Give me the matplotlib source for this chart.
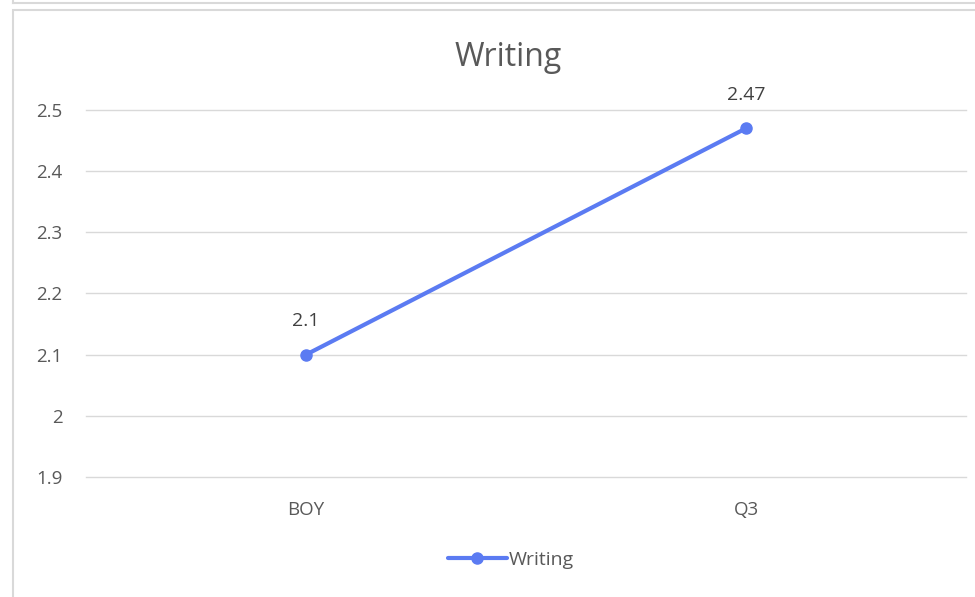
import matplotlib
matplotlib.use('Agg')
from matplotlib import pyplot as plt
from matplotlib.patches import Rectangle
from matplotlib.lines import Line2D

# datos
categories = ['BOY', 'Q3']
writing = [2.1, 2.47]
y_ticks = [1.9, 2, 2.1, 2.2, 2.3, 2.4, 2.5]
y_labels = ['1.9', '2', '2.1', '2.2', '2.3', '2.4', '2.5']

plt.rcParams['font.family'] = ['Open Sans', 'DejaVu Sans']
gray_text = '#595959'
line_color = '#5B7BF2'

fig = plt.figure(figsize=(9.75, 5.97), dpi=100)
W, H = 975, 597

# marcos estilo Excel
fig.add_artist(Line2D([13 / W, 1], [1 - 3 / H, 1 - 3 / H], color='#D9D9D9', lw=1.5))
fig.add_artist(Line2D([13 / W, 13 / W], [1, 1 - 3 / H], color='#D9D9D9', lw=1.5))
fig.add_artist(Rectangle((13 / W, -0.05), 1.1, 1 - 10 / H + 0.05, fill=False,
                         edgecolor='#D9D9D9', lw=1.5))

ax = fig.add_axes([86 / W, 1 - 477 / H, (966 - 86) / W, (477 - 110) / H])
x = list(range(len(categories)))
ax.plot(x, writing, color=line_color, lw=3, marker='o', markersize=8, label='Writing',
        solid_capstyle='round')
for xi, v in zip(x, writing):
    ax.annotate(f'{v:g}', (xi, v), xytext=(0, 24), textcoords='offset points',
                ha='center', va='center', fontsize=14, color='#404040')

ax.set_xlim(-0.5, 1.5)
ax.set_ylim(1.9, 2.5)
ax.set_xticks(x)
ax.set_xticklabels(categories)
ax.set_yticks(y_ticks)
ax.set_yticklabels(y_labels)
ax.tick_params(axis='both', length=0, labelsize=13.5, labelcolor=gray_text)
ax.tick_params(axis='y', pad=17)
ax.tick_params(axis='x', pad=17)
ax.grid(axis='y', color='#D9D9D9', lw=1)
for gl in ax.get_ygridlines():
    gl.set_clip_on(False)
ax.set_axisbelow(True)
for s in ax.spines.values():
    s.set_visible(False)

fig.text(508 / W, 1 - 57 / H, 'Writing', ha='center', va='center', fontsize=23, color=gray_text)

fig.legend(loc='center', bbox_to_anchor=(511 / W, 1 - 560 / H), frameon=False,
           fontsize=14, labelcolor=gray_text, handlelength=3, handletextpad=0.1)

fig.savefig('out.png', dpi=100)
